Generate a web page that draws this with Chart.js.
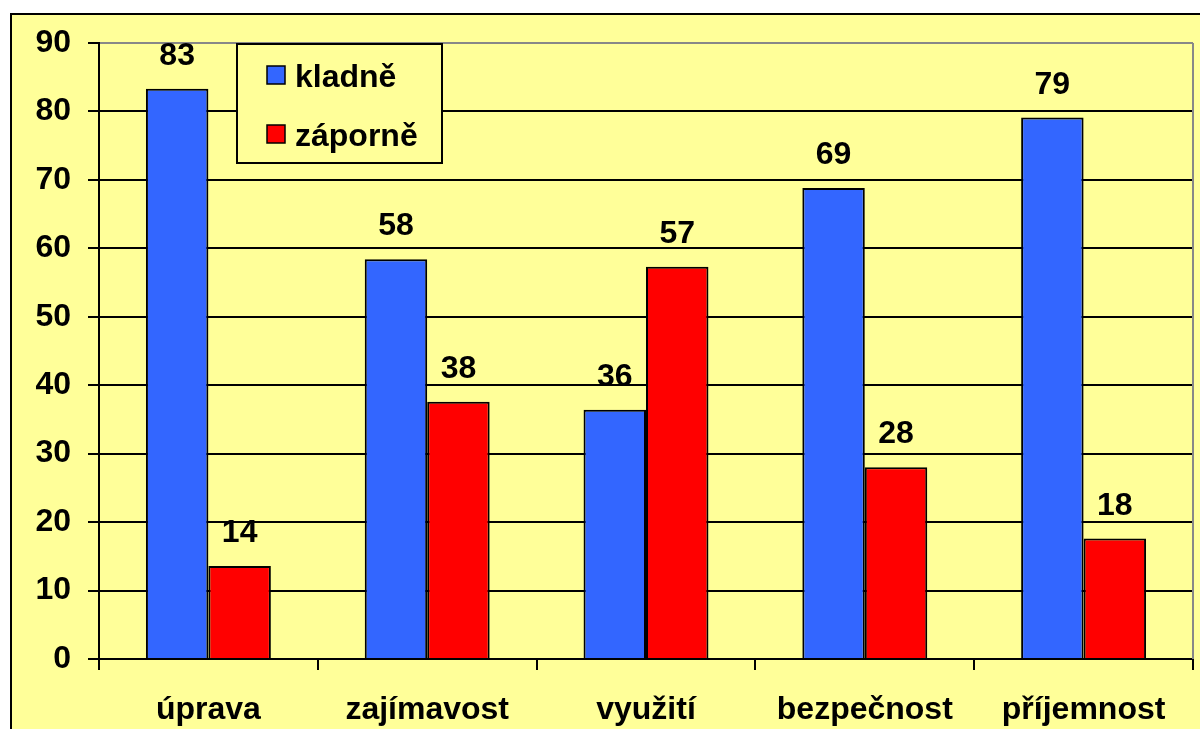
<!DOCTYPE html>
<html>
<head>
<meta charset="utf-8">
<script src="https://cdn.jsdelivr.net/npm/chart.js@4/dist/chart.umd.min.js"></script>
<style>
  html, body { margin: 0; padding: 0; background: #fff; }
  #wrap { width: 1200px; height: 729px; }
</style>
</head>
<body>
<div id="wrap"><canvas id="myChart" width="1200" height="729"></canvas></div>
<script>
// data
var categories = ['úprava', 'zajímavost', 'využití', 'bezpečnost', 'příjemnost'];
var kladne = [83.3, 58.4, 36.4, 68.8, 79.1];
var zaporne = [13.6, 37.6, 57.3, 28.0, 17.6];
var seriesNames = ['kladně', 'záporně'];
var yMin = 0, yMax = 90, yStep = 10;

var FONT = '"Liberation Sans", Arial, sans-serif';
var FSIZE = 32;
var YELLOW = '#FFFF99';
var BLUE = '#3366FF';
var RED = '#FF0000';

// yellow chart panel with black frame
var panelPlugin = {
    id: 'panel',
    beforeDraw: function (chart) {
        var c = chart.ctx;
        c.save();
        c.fillStyle = '#fff';
        c.fillRect(0, 0, chart.width, chart.height);
        c.fillStyle = YELLOW;
        c.fillRect(10, 13, chart.width - 10, chart.height - 13);
        c.strokeStyle = '#000';
        c.lineWidth = 2;
        c.beginPath();
        c.moveTo(11, chart.height);
        c.lineTo(11, 14);
        c.lineTo(chart.width, 14);
        c.stroke();
        c.restore();
    },
    beforeDatasetsDraw: function (chart) {
        // grey right edge of the plot area
        var a = chart.chartArea, c = chart.ctx;
        c.save();
        c.strokeStyle = '#888';
        c.lineWidth = 2;
        c.beginPath();
        c.moveTo(a.right, a.top);
        c.lineTo(a.right, a.bottom);
        c.stroke();
        c.restore();
    }
};

// numbers above the bars
var valuePlugin = {
    id: 'values',
    afterDatasetsDraw: function (chart) {
        var c = chart.ctx;
        c.save();
        c.font = 'bold ' + FSIZE + 'px ' + FONT;
        c.fillStyle = '#000';
        c.textAlign = 'center';
        c.textBaseline = 'alphabetic';
        chart.data.datasets.forEach(function (ds, i) {
            chart.getDatasetMeta(i).data.forEach(function (bar, j) {
                c.fillText(String(Math.round(ds.data[j])), bar.x, bar.y - 24);
            });
        });
        c.restore();
    }
};

// legend box inside the plot
var legendPlugin = {
    id: 'boxLegend',
    afterDraw: function (chart) {
        var c = chart.ctx;
        c.save();
        c.fillStyle = YELLOW;
        c.fillRect(237, 44, 205, 119);
        c.strokeStyle = '#000';
        c.lineWidth = 2;
        c.strokeRect(237, 44, 205, 119);
        var rows = [66, 125];
        chart.data.datasets.forEach(function (ds, i) {
            c.fillStyle = ds.backgroundColor;
            c.fillRect(267, rows[i], 18, 18);
            c.lineWidth = 1.5;
            c.strokeRect(267, rows[i], 18, 18);
            c.fillStyle = '#000';
            c.font = 'bold ' + FSIZE + 'px ' + FONT;
            c.textBaseline = 'alphabetic';
            c.textAlign = 'left';
            c.fillText(ds.label, 295, rows[i] + 21);
        });
        c.restore();
    }
};

var ctx = document.getElementById('myChart').getContext('2d');
var chart = new Chart(ctx, {
    type: 'bar',
    data: {
        labels: categories,
        datasets: [
            { label: seriesNames[0], data: kladne, backgroundColor: BLUE, borderColor: '#000', borderWidth: 2 },
            { label: seriesNames[1], data: zaporne, backgroundColor: RED, borderColor: '#000', borderWidth: 2 }
        ]
    },
    options: {
        responsive: false,
        animation: false,
        categoryPercentage: 0.571,
        barPercentage: 1,
        layout: { padding: { top: 43, right: 7, left: 0, bottom: 0 } },
        plugins: {
            legend: { display: false },
            tooltip: { enabled: false }
        },
        scales: {
            x: {
                afterFit: function (s) { s.height = 70; },
                grid: { drawOnChartArea: false, color: '#000', lineWidth: 2, tickLength: 11, offset: true },
                border: { display: true, color: '#000', width: 2 },
                ticks: { color: '#000', font: { family: FONT, size: FSIZE, weight: 'bold' }, padding: 21, maxRotation: 0 }
            },
            y: {
                min: yMin,
                max: yMax,
                afterFit: function (s) { s.width = 99; },
                grid: {
                    color: function (c) { return c.tick && c.tick.value === yMax ? '#888' : '#000'; },
                    tickColor: '#000',
                    lineWidth: 2,
                    tickLength: 11
                },
                border: { display: true, color: '#000', width: 2 },
                ticks: { stepSize: yStep, color: '#000', font: { family: FONT, size: FSIZE, weight: 'bold' }, padding: 17 }
            }
        }
    },
    plugins: [panelPlugin, valuePlugin, legendPlugin]
});
</script>
</body>
</html>
